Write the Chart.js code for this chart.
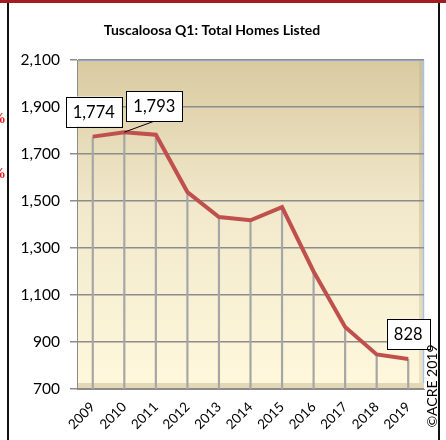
<!DOCTYPE html>
<html>
<head>
<meta charset="utf-8">
<script src="https://cdn.jsdelivr.net/npm/chart.js@4"></script>
<style>
  html, body { margin:0; padding:0; background:#fff; }
  #wrap { position:relative; width:446px; height:440px; overflow:hidden; background:#fff; }
  #c { position:absolute; left:0; top:0; }
  .frame { position:absolute; }
  #copy { position:absolute; left:431px; top:386px; transform:translate(-50%,-50%) rotate(-90deg);
          font-family:Lato, "Open Sans", sans-serif; font-size:14px; color:#000; white-space:nowrap; }
  .frag { position:absolute; left:-9px; font-family:"Liberation Serif", serif; font-weight:bold; font-size:15px; color:#e3191c; line-height:1; }
</style>
</head>
<body>
<div id="wrap">
  <canvas id="c" width="446" height="440"></canvas>
  <div class="frame" style="left:0;top:0;width:446px;height:3px;background:#a21d22;"></div>
  <div class="frame" style="left:7px;top:3px;width:2px;height:437px;background:#111;"></div>
  <div class="frame" style="left:438px;top:3px;width:2px;height:437px;background:#111;"></div>
  <div class="frag" style="top:111px;">%</div>
  <div class="frag" style="top:166px;">%</div>
  <div id="copy">©ACRE 2019</div>
</div>
<script>
const categories = ['2009','2010','2011','2012','2013','2014','2015','2016','2017','2018','2019'];
const homesListed = [1774, 1793, 1782, 1538, 1432, 1418, 1474, 1200, 964, 847, 828];
const yMin = 700;
const yMax = 2100;
const yStep = 200;
const labeledPoints = [0, 1, 10];
const chartTitle = 'Tuscaloosa Q1: Total Homes Listed';

const FONT = 'Lato, "Open Sans", sans-serif';
const fmt = v => Number(v).toLocaleString('en-US');

const bgPlugin = {
  id: 'bg3d',
  beforeDraw(chart) {
    const { ctx, chartArea: a } = chart;
    ctx.save();
    const g = ctx.createLinearGradient(0, a.top, 0, a.bottom);
    g.addColorStop(0, '#d9caa0');
    g.addColorStop(0.45, '#f2e9cc');
    g.addColorStop(1, '#fff8dc');
    ctx.fillStyle = g;
    ctx.fillRect(a.left, a.top, a.width, a.height);
    // right side wall
    const g2 = ctx.createLinearGradient(0, a.top, 0, a.bottom);
    g2.addColorStop(0, '#cdbf98');
    g2.addColorStop(1, '#eee4c4');
    ctx.fillStyle = g2;
    ctx.fillRect(a.right - 5, a.top, 5, a.height);
    // floor
    ctx.fillStyle = '#e4d7b3';
    ctx.fillRect(a.left, a.bottom - 6, a.width, 6);
    // blue outline
    ctx.strokeStyle = '#a9c1e6';
    ctx.lineWidth = 1.5;
    ctx.beginPath();
    ctx.moveTo(a.left, a.top + 0.5);
    ctx.lineTo(a.right - 0.5, a.top + 0.5);
    ctx.lineTo(a.right - 0.5, a.bottom - 6);
    ctx.stroke();
    ctx.restore();
  },
  beforeDatasetsDraw(chart) {
    const { ctx } = chart;
    const meta = chart.getDatasetMeta(0);
    const yb = chart.scales.y.getPixelForValue(yMin);
    ctx.save();
    ctx.strokeStyle = '#a6a6a6';
    ctx.lineWidth = 2.2;
    meta.data.forEach(p => {
      ctx.beginPath();
      ctx.moveTo(p.x, p.y);
      ctx.lineTo(p.x, yb);
      ctx.stroke();
    });
    ctx.restore();
  },
  afterDatasetsDraw(chart) {
    const { ctx } = chart;
    const meta = chart.getDatasetMeta(0);
    const offsets = { 0: [1, -25], 1: [30, -26], 10: [0, -25] };
    ctx.save();
    ctx.font = '16.5px ' + FONT;
    ctx.textAlign = 'center';
    ctx.textBaseline = 'middle';
    labeledPoints.forEach(i => {
      const p = meta.data[i];
      const [dx, dy] = offsets[i] || [0, -25];
      const cx = p.x + dx, cy = p.y + dy;
      const txt = fmt(homesListed[i]);
      const w = ctx.measureText(txt).width + 14, h = 30;
      if (i === 1) {
        ctx.strokeStyle = '#000'; ctx.lineWidth = 1;
        ctx.beginPath(); ctx.moveTo(p.x, p.y); ctx.lineTo(cx, cy + h / 2); ctx.stroke();
      }
      ctx.fillStyle = '#fff';
      ctx.fillRect(cx - w / 2, cy - h / 2, w, h);
      ctx.strokeStyle = '#000'; ctx.lineWidth = 1;
      ctx.strokeRect(Math.round(cx - w / 2) + 0.5, Math.round(cy - h / 2) + 0.5, Math.round(w), h);
      ctx.fillStyle = '#000';
      ctx.fillText(txt, cx, cy + 1);
    });
    ctx.restore();
  }
};

new Chart(document.getElementById('c'), {
  type: 'line',
  data: {
    labels: categories,
    datasets: [{
      data: homesListed,
      borderColor: '#c0504d',
      borderWidth: 4,
      pointRadius: 0,
      tension: 0,
      fill: false
    }]
  },
  options: {
    responsive: false,
    animation: false,
    layout: { padding: { top: 0, right: 22, bottom: 0, left: 0 } },
    plugins: {
      legend: { display: false },
      tooltip: { enabled: false },
      title: {
        display: true,
        text: chartTitle,
        color: '#000',
        font: { family: FONT, size: 14, weight: 'bold' },
        padding: { top: 21.6, bottom: 21.6 }
      }
    },
    scales: {
      x: {
        type: 'category',
        offset: true,
        grid: { display: false, drawOnChartArea: false },
        border: { display: true, color: '#8c8c8c', width: 1 },
        ticks: {
          color: '#000', font: { family: FONT, size: 13.5 },
          minRotation: 45, maxRotation: 45, padding: 2, autoSkip: false
        },
        afterFit(s) { s.height = 51; }
      },
      y: {
        min: yMin, max: yMax,
        grid: { color: '#8c8c8c', lineWidth: 1.5, tickLength: 7, drawTicks: true },
        border: { display: true, color: '#8c8c8c', width: 1 },
        ticks: {
          stepSize: yStep, color: '#000', padding: 10,
          font: { family: FONT, size: 15.5 },
          callback: v => fmt(v)
        },
        afterFit(s) { s.width = 77; }
      }
    }
  },
  plugins: [bgPlugin]
});
</script>
</body>
</html>
